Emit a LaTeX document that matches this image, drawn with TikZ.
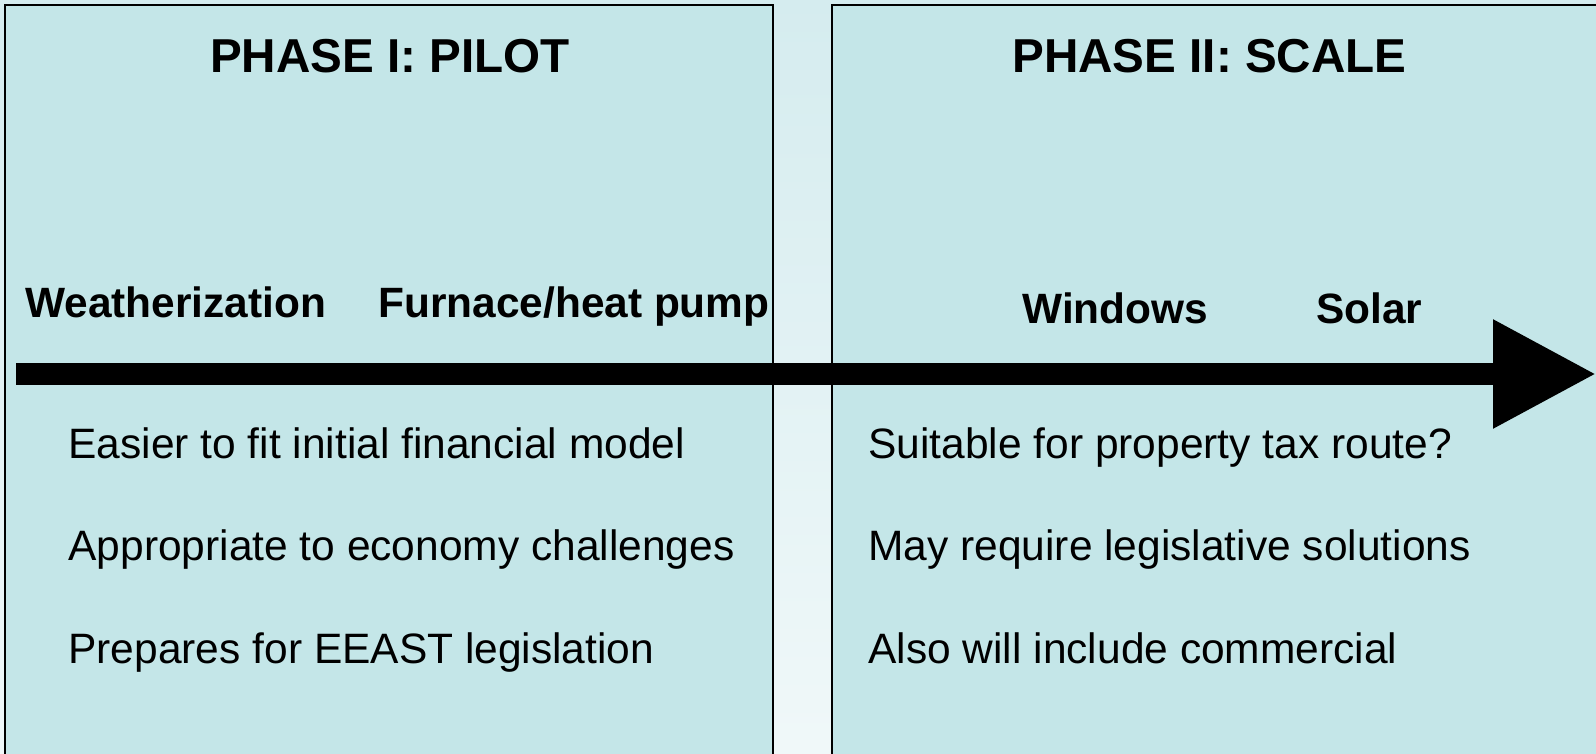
\documentclass[tikz,border=0pt]{standalone}
\usepackage{fontspec}
\setmainfont{Liberation Sans}
\usepackage{tikz}
\usetikzlibrary{arrows.meta}

\definecolor{panelfill}{RGB}{196,230,232}
\definecolor{bgtop}{RGB}{213,236,239}
\definecolor{bgbottom}{RGB}{240,248,249}

\begin{document}
\begin{tikzpicture}[x=0.5pt,y=-0.5pt,
                    >={Triangle[length=51.5pt,width=51.5pt]}]

  \tikzstyle{phase}=[draw=black,line width=1.4pt,fill=panelfill]
  \tikzstyle{title}=[font=\fontsize{23.8}{28}\selectfont\bfseries,anchor=base,inner sep=0pt]
  \tikzstyle{measure}=[font=\fontsize{21.2}{25}\selectfont\bfseries,anchor=base west,inner sep=0pt]
  \tikzstyle{note}=[font=\fontsize{21.25}{25}\selectfont,anchor=base west,inner sep=0pt]

  \useasboundingbox (0,0) rectangle (1596,754);
  \clip (0,0) rectangle (1596,754);
  \shade[top color=bgtop,bottom color=bgbottom] (0,0) rectangle (1596,754);

  \draw[phase] (5,5) rectangle (773,770);
  \draw[phase] (832,5) rectangle (1610,770);

  \node[title] (P1) at (390,73)    {PHASE I: PILOT};
  \node[title] (P2) at (1209.5,73) {PHASE II: SCALE};

  \node[measure] (WZ) at (25,318)   {Weatherization};
  \node[measure] (FH) at (378,318)  {Furnace/heat pump};
  \node[measure] (WI) at (1022,323) {Windows};
  \node[measure] (SO) at (1316,323) {Solar};

  \coordinate (start) at (16,374);
  \coordinate (tip)   at (1596,374);
  \draw[->,line width=11pt] (start) -- (tip);

  \node[note] (E1) at (68,458) {Easier to fit initial financial model};
  \node[note] (E2) at (68,560) {Appropriate to economy challenges};
  \node[note] (E3) at (68,663) {Prepares for EEAST legislation};

  \node[note] (S1) at (868,458) {Suitable for property tax route?};
  \node[note] (S2) at (868,560) {May require legislative solutions};
  \node[note] (S3) at (868,663) {Also will include commercial};
\end{tikzpicture}
\end{document}
